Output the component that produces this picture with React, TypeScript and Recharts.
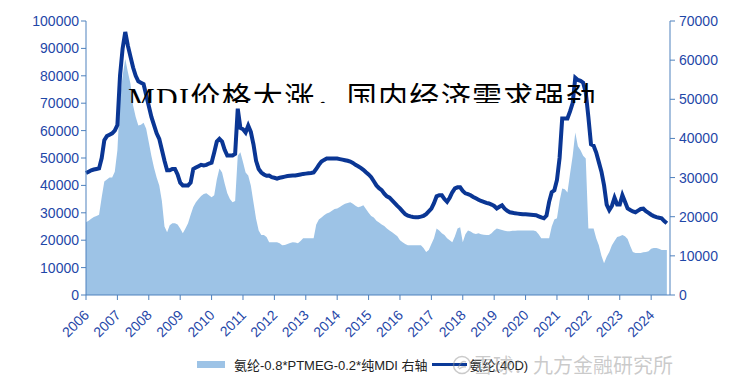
import { ComposedChart, Area, Line, XAxis, YAxis, Legend } from 'recharts';

// 氨纶(40D) 价格，左轴，月度 2006-01 ~ 2024-07
const spandexPrice = [
  44500, 45000, 45500, 45800, 46000, 46200, 50000, 56500, 58000, 58500, 59000, 60000, // 2006
  62000, 80000, 90000, 96000, 91000, 87000, 83000, 80000, 78000, 77500, 77000, 73000, // 2007
  69000, 65000, 62000, 59000, 57000, 53000, 49000, 45500, 45500, 46000, 46000, 44000, // 2008
  41000, 40000, 40000, 40000, 41000, 46000, 46500, 47000, 47500, 47300, 47500, 48000, // 2009
  48300, 52000, 56000, 57000, 56000, 53000, 50900, 50900, 50900, 51500, 68000, 61000, // 2010
  60500, 59300, 61800, 59500, 55000, 49000, 46000, 44700, 44000, 43500, 43600, 43000, // 2011
  42800, 42500, 42800, 43000, 43200, 43400, 43500, 43600, 43600, 43800, 44000, 44200, // 2012
  44300, 44400, 44500, 44700, 46000, 47500, 48700, 49300, 49800, 49800, 49800, 49800, // 2013
  49800, 49600, 49400, 49200, 49000, 48700, 48200, 47500, 47000, 46400, 45700, 44800, // 2014
  44000, 43000, 41500, 40000, 39000, 38300, 37000, 36000, 35500, 34500, 33500, 32500, // 2015
  31600, 30500, 29500, 29000, 28700, 28500, 28400, 28400, 28600, 28900, 29500, 30500, // 2016
  31500, 33500, 36000, 36400, 36400, 35000, 34000, 35500, 37500, 38900, 39300, 39300, // 2017
  38000, 37100, 36800, 36400, 35800, 35300, 34800, 34300, 34000, 33600, 33400, 33000, // 2018
  32500, 31600, 32200, 32700, 31500, 30700, 30200, 30000, 29800, 29700, 29600, 29500, // 2019
  29500, 29400, 29300, 29200, 29100, 28700, 28300, 28000, 29000, 34000, 37500, 38200, // 2020
  42000, 50000, 64400, 64400, 64400, 67000, 70000, 79300, 78500, 78200, 77500, 74000, // 2021
  65000, 55000, 54500, 52000, 48500, 45000, 40000, 33000, 31000, 32500, 35500, 33000, // 2022
  33000, 36400, 34000, 31600, 31000, 30500, 30200, 30800, 31400, 31500, 30600, 30000, // 2023
  29300, 28800, 28400, 28200, 28000, 27000, 26200, // 2024
];

// 氨纶-0.8*PTMEG-0.2*纯MDI 价差，右轴
const spreadValues = [
  18600, 19000, 19500, 19900, 20200, 20500, 25000, 29000, 29500, 30000, 30000, 31500, // 2006
  37000, 50000, 56000, 60300, 57000, 54000, 48400, 45500, 43300, 43500, 44000, 42500, // 2007
  39000, 35500, 32500, 30000, 28000, 24000, 17500, 16000, 17800, 18300, 18300, 18000, // 2008
  17000, 15800, 17000, 18300, 20500, 22500, 23700, 24500, 25300, 25800, 26000, 25500, // 2009
  25000, 25500, 29500, 32300, 31300, 28500, 26000, 24500, 23700, 24000, 35600, 36500, // 2010
  34000, 31300, 30500, 28000, 23700, 19500, 16500, 15300, 15300, 14800, 13500, 13500, // 2011
  13500, 13500, 13200, 12700, 12800, 13000, 13300, 13500, 13400, 13200, 13800, 14500, // 2012
  14500, 14500, 14500, 14500, 18000, 19300, 19800, 20400, 20800, 21100, 21500, 22000, // 2013
  22100, 22500, 22900, 23300, 23500, 23700, 23300, 22800, 22400, 22600, 22900, 22000, // 2014
  21000, 20200, 19800, 19000, 18500, 18000, 17600, 17000, 16500, 16000, 15500, 15000, // 2015
  14000, 13500, 13000, 12700, 12700, 12700, 12700, 12700, 12700, 12000, 11000, 11500, // 2016
  13000, 14500, 17000, 16500, 15800, 15300, 14500, 14000, 13500, 15000, 17000, 17300, // 2017
  13500, 15500, 16500, 16200, 15800, 15600, 15800, 15500, 15400, 15300, 15300, 15800, // 2018
  16500, 17000, 16800, 16600, 16400, 16300, 16300, 16400, 16400, 16500, 16500, 16500, // 2019
  16500, 16500, 16500, 16500, 16300, 15500, 14500, 14500, 14500, 14500, 17500, 19300, // 2020
  19600, 24000, 27200, 27000, 26200, 31000, 35500, 41500, 38000, 37000, 35600, 34900, // 2021
  17000, 17000, 17000, 14500, 12700, 10000, 8100, 9800, 11000, 12700, 13800, 14800, // 2022
  15000, 15300, 15000, 14300, 12500, 11000, 10700, 10700, 10700, 10900, 11000, 11200, // 2023
  11800, 12000, 12000, 11800, 11500, 11500, 11500, // 2024
];

const yearTicks = [2006, 2007, 2008, 2009, 2010, 2011, 2012, 2013, 2014, 2015, 2016, 2017, 2018, 2019, 2020, 2021, 2022, 2023, 2024];
const leftTicks = [0, 10000, 20000, 30000, 40000, 50000, 60000, 70000, 80000, 90000, 100000];
const rightTicks = [0, 10000, 20000, 30000, 40000, 50000, 60000, 70000];

const title = 'MDI价格大涨，国内经济需求强劲';
const spreadName = '氨纶-0.8*PTMEG-0.2*纯MDI 右轴';
const priceName = '氨纶(40D)';
const watermark = '雪球：九方金融研究所';

const data = spandexPrice.map((v, i) => ({
  t: 2006 + i / 12,
  price: v,
  spread: spreadValues[i],
}));

const axisColor = '#4f81bd';
const tickColor = '#1f47a8';
const font = '"Liberation Sans", Arial, sans-serif';

const YearTick = (props: any) => {
  const { x, y, payload } = props;
  return (
    <text
      transform={`translate(${x + 4},${y + 14}) rotate(-45)`}
      textAnchor="end"
      fill={tickColor}
      fontSize={14}
      fontFamily={font}
    >
      {payload.value}
    </text>
  );
};

const LegendBox = () => (
  <div
    style={{
      height: 46,
      boxSizing: 'border-box',
      paddingTop: 10,
      paddingLeft: 197,
      fontFamily: '"Liberation Sans", Arial, "Noto Sans CJK SC", sans-serif',
      fontSize: 13,
      color: '#222',
    }}
  >
    <div style={{ display: 'flex', alignItems: 'center', height: 18 }}>
      <div style={{ width: 28, height: 7, background: '#9dc3e6', marginRight: 9 }} />
      <span>{spreadName}</span>
      <div style={{ width: 35, height: 3, background: '#0b3a98', margin: '0 3px 0 4px' }} />
      <span>{priceName}</span>
    </div>
  </div>
);

export default function App() {
  return (
    <div style={{ position: 'absolute', left: 0, top: 0, width: 733, height: 391, background: '#fff' }}>
      <ComposedChart width={733} height={391} data={data} margin={{ top: 21, right: 0, bottom: 0, left: 0 }}>
        <XAxis
          dataKey="t"
          type="number"
          domain={[2006, 2024.6]}
          ticks={yearTicks}
          height={50}
          stroke={axisColor}
          tickSize={5}
          tick={<YearTick />}
          interval={0}
        />
        <YAxis
          yAxisId="left"
          domain={[0, 100000]}
          ticks={leftTicks}
          width={86}
          stroke={axisColor}
          tickSize={5}
          tick={{ fill: tickColor, fontSize: 14, fontFamily: font }}
          interval={0}
        />
        <YAxis
          yAxisId="right"
          orientation="right"
          domain={[0, 70000]}
          ticks={rightTicks}
          width={63}
          stroke={axisColor}
          tickSize={5}
          tickMargin={4}
          tick={{ fill: tickColor, fontSize: 14, fontFamily: font }}
          interval={0}
        />
        <Area
          yAxisId="right"
          dataKey="spread"
          type="linear"
          fill="#9dc3e6"
          fillOpacity={1}
          stroke="none"
          isAnimationActive={false}
        />
        <Line
          yAxisId="left"
          dataKey="price"
          type="linear"
          stroke="#0a3694"
          strokeWidth={4}
          dot={false}
          isAnimationActive={false}
        />
        <Legend verticalAlign="bottom" content={<LegendBox />} />
      </ComposedChart>

      <div
        style={{
          position: 'absolute',
          left: 128,
          top: 83,
          height: 20,
          overflow: 'hidden',
          whiteSpace: 'nowrap',
          fontFamily: '"Liberation Serif", "Noto Sans CJK SC", serif',
          fontSize: 30,
          lineHeight: '30px',
          letterSpacing: 1.3,
          color: '#000',
          pointerEvents: 'none',
        }}
      >
        {title}
      </div>

      <div
        style={{
          position: 'absolute',
          left: 452,
          top: 353,
          display: 'flex',
          alignItems: 'center',
          color: 'rgba(150,150,150,0.5)',
          fontFamily: '"Noto Sans CJK SC", sans-serif',
          fontSize: 20,
          lineHeight: '24px',
          whiteSpace: 'nowrap',
          pointerEvents: 'none',
        }}
      >
        <svg width={20} height={20} style={{ marginRight: 1 }}>
          <circle cx={10} cy={10} r={8.5} fill="none" stroke="rgba(150,150,150,0.5)" strokeWidth={1.5} />
          <path d="M6 13 Q9 5 14 7 M7 14 Q11 11 14 12" fill="none" stroke="rgba(150,150,150,0.5)" strokeWidth={1.5} />
        </svg>
        <span>{watermark}</span>
      </div>
    </div>
  );
}
